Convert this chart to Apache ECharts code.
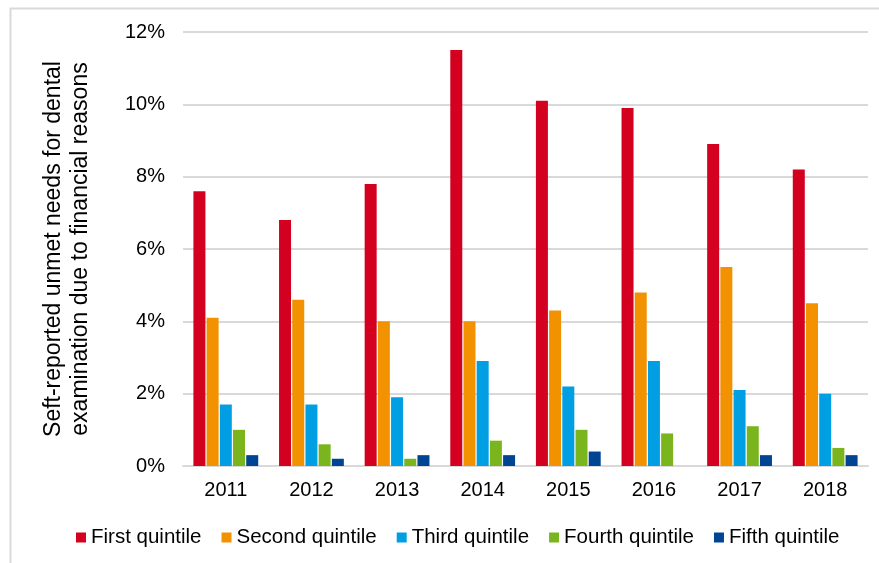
<!DOCTYPE html>
<html>
<head>
<meta charset="utf-8">
<script src="https://cdn.jsdelivr.net/npm/echarts@6/dist/echarts.min.js"></script>
<style>
  html, body { margin: 0; padding: 0; background: #fff; }
  #chart { width: 879px; height: 563px; }
</style>
</head>
<body>
<div id="chart"></div>
<script>
// Survey years on the category axis
const years = ['2011', '2012', '2013', '2014', '2015', '2016', '2017', '2018'];

// Share of people reporting unmet dental needs (%), by income quintile
const firstQuintile  = [7.6, 6.8, 7.8, 11.5, 10.1, 9.9, 8.9, 8.2];
const secondQuintile = [4.1, 4.6, 4.0, 4.0, 4.3, 4.8, 5.5, 4.5];
const thirdQuintile  = [1.7, 1.7, 1.9, 2.9, 2.2, 2.9, 2.1, 2.0];
const fourthQuintile = [1.0, 0.6, 0.2, 0.7, 1.0, 0.9, 1.1, 0.5];
const fifthQuintile  = [0.3, 0.2, 0.3, 0.3, 0.4, null, 0.3, 0.3];

const seriesNames = ['First quintile', 'Second quintile', 'Third quintile', 'Fourth quintile', 'Fifth quintile'];
const seriesValues = [firstQuintile, secondQuintile, thirdQuintile, fourthQuintile, fifthQuintile];
const seriesColors = ['#D3001F', '#F39200', '#009FE3', '#7AB51D', '#004494'];

const axisTitle = 'Seft-reported unmet needs for dental\nexamination due to financial reasons';

const font = '"Liberation Sans", Arial, sans-serif';

const chart = echarts.init(document.getElementById('chart'), null, { renderer: 'canvas' });

chart.setOption({
  animation: false,
  backgroundColor: '#ffffff',
  graphic: [{
    type: 'rect',
    left: 8, top: 6,
    shape: { width: 900, height: 600 },
    style: { fill: 'none', stroke: '#d9d9d9', lineWidth: 2 },
    silent: true
  }],
  grid: { left: 183, right: 11, top: 32, bottom: 97 },
  legend: {
    left: 71, top: 522,
    itemWidth: 10, itemHeight: 10, itemGap: 20,
    icon: 'rect',
    textStyle: { fontFamily: font, fontSize: 20.5, color: '#000' },
    data: seriesNames
  },
  xAxis: {
    type: 'category',
    data: years,
    axisLine: { show: true, lineStyle: { color: '#d9d9d9', width: 2 } },
    axisTick: { show: false },
    axisLabel: { fontFamily: font, fontSize: 20, color: '#000', margin: 14 }
  },
  yAxis: {
    type: 'value',
    min: 0, max: 12, interval: 2,
    name: axisTitle,
    nameLocation: 'middle',
    nameRotate: 90,
    nameGap: 89,
    nameTextStyle: { fontFamily: font, fontSize: 23, color: '#000', lineHeight: 27 },
    axisLine: { show: false },
    axisTick: { show: false },
    splitLine: { lineStyle: { color: '#d9d9d9', width: 2 } },
    axisLabel: {
      fontFamily: font, fontSize: 20, color: '#000', margin: 18,
      formatter: v => v + '%'
    }
  },
  series: seriesNames.map((name, i) => ({
    name,
    type: 'bar',
    data: seriesValues[i],
    barWidth: 12,
    barGap: '10%',
    itemStyle: { color: seriesColors[i] }
  }))
});
</script>
</body>
</html>
